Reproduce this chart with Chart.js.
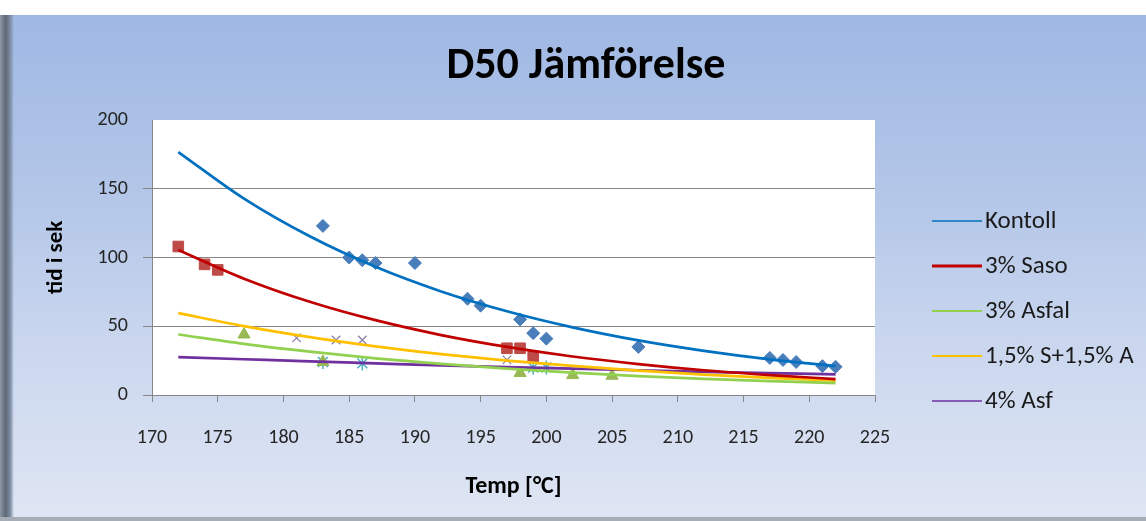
<!DOCTYPE html>
<html>
<head>
<meta charset="utf-8">
<title>D50 Jämförelse</title>
<script src="https://cdn.jsdelivr.net/npm/chart.js@4.4.1/dist/chart.umd.min.js"></script>
<style>
  html, body { margin: 0; padding: 0; background: #ffffff; }
  #wrap { position: relative; width: 1146px; height: 521px; overflow: hidden; }
  #bg { position: absolute; left: 0; top: 15px; width: 1146px; height: 506px;
        background: linear-gradient(to bottom, #9fb8e3 0%, #b3c6e8 35%, #cdd9ef 70%, #dfe6f3 100%); }
  #edge { position: absolute; left: 0; top: 15px; width: 14px; height: 506px;
          background: linear-gradient(to right, #8e97a4 0%, #5d6775 40%, #8090a8 75%, rgba(160,185,228,0) 100%); }
  #foot { position: absolute; left: 0; top: 517px; width: 1146px; height: 4px; background: #a7adb6; }
  canvas { position: absolute; left: 0; top: 0; }
</style>
</head>
<body>
<div id="wrap">
  <div id="bg"></div>
  <div id="edge"></div>
  <div id="foot"></div>
  <canvas id="chart" width="1146" height="521"></canvas>
</div>
<script>
// ---- texts ----
const chartTitle = 'D50 Jämförelse';
const xAxisTitle = 'Temp [°C]';
const yAxisTitle = 'tid i sek';
const seriesNames = ['Kontoll', '3% Saso', '3% Asfal', '1,5% S+1,5% A', '4% Asf'];

// ---- measured points: temperature (°C) and time (s) ----
const kontollTemp = [183, 185, 186, 187, 190, 194, 195, 198, 199, 200, 207, 217, 218, 219, 221, 222];
const kontollTid  = [123, 100, 98, 96, 96, 70, 65, 55, 45, 41, 35, 27, 25.5, 24, 21, 20.5];
const sasoTemp = [172, 174, 175, 197, 198, 199];
const sasoTid  = [108, 95, 91, 34, 34, 28];
const asfalTemp = [177, 183, 198, 202, 205];
const asfalTid  = [44, 24, 16, 14.5, 14];
const blandTemp = [181, 184, 186, 197];
const blandTid  = [41.5, 40, 40, 25.5];
const asf4Temp = [183, 186, 199, 200];
const asf4Tid  = [24, 23, 20, 20];

// ---- exponential trend curves, sampled every 5 °C ----
const trendTemp    = [172, 177, 182, 187, 192, 197, 202, 207, 212, 217, 222];
const kontollTrend = [176.7, 142.8, 115.4, 93.2, 75.3, 60.9, 49.2, 39.7, 32.1, 25.9, 21.0];
const sasoTrend    = [105.5, 84.6, 67.8, 54.4, 43.6, 35.0, 28.0, 22.5, 18.0, 14.5, 11.6];
const asfalTrend   = [44.0, 37.2, 31.5, 26.7, 22.6, 19.2, 16.3, 13.8, 11.8, 10.1, 8.7];
const blandTrend   = [59.6, 50.1, 42.1, 35.4, 29.8, 25.0, 21.1, 17.7, 14.9, 12.5, 10.5];
const asf4Trend    = [27.6, 26.0, 24.4, 23.0, 21.6, 20.3, 19.1, 18.0, 16.9, 15.9, 15.0];

// ---- axis ticks ----
const xTicks = [170, 175, 180, 185, 190, 195, 200, 205, 210, 215, 220, 225];
const yTicks = [0, 50, 100, 150, 200];

const FONT = 'Calibri, Carlito, Lato, "Open Sans", sans-serif';
const lineColors = ['#0070c0', '#c00000', '#92d050', '#ffc000', '#7030a0'];
const legendWidths = [1.5, 3, 2, 2, 1.5];

const toXY = (xs, ys) => xs.map((x, i) => ({ x: x, y: ys[i] }));

function trend(label, ys, color) {
  return {
    type: 'line', label: label, isTrend: true,
    data: toXY(trendTemp, ys),
    borderColor: color, backgroundColor: color, borderWidth: 2.75,
    pointRadius: 0, fill: false, cubicInterpolationMode: 'monotone'
  };
}
function marks(xs, ys, style, fill, stroke, radius, bw) {
  return {
    type: 'scatter', label: '', data: toXY(xs, ys),
    pointStyle: style, pointRadius: radius, pointHoverRadius: radius,
    backgroundColor: fill, borderColor: stroke, pointBorderWidth: bw, showLine: false
  };
}

const datasets = [
  trend(seriesNames[0], kontollTrend, lineColors[0]),
  trend(seriesNames[1], sasoTrend, lineColors[1]),
  trend(seriesNames[2], asfalTrend, lineColors[2]),
  trend(seriesNames[3], blandTrend, lineColors[3]),
  trend(seriesNames[4], asf4Trend, lineColors[4]),
  marks(kontollTemp, kontollTid, 'rectRot', '#4a7ebb', '#4a7ebb', 6.5, 1),
  marks(sasoTemp, sasoTid, 'rect', '#be4b48', '#be4b48', 7.5, 1),
  marks(asfalTemp, asfalTid, 'triangle', '#98b954', '#98b954', 7, 1),
  marks(blandTemp, blandTid, 'crossRot', '#8064a2', '#8a7aa8', 6, 1.2),
  marks(asf4Temp, asf4Tid, 'star', '#4bacc6', '#4bacc6', 7, 1.5)
];

// white plotting area behind the marks
const plotBackground = {
  id: 'plotBackground',
  beforeDraw(chart) {
    const a = chart.chartArea, ctx = chart.ctx;
    ctx.save();
    ctx.fillStyle = '#ffffff';
    ctx.fillRect(a.left, a.top, a.right - a.left, a.bottom - a.top);
    ctx.restore();
  }
};

// title and the legend of trend curves
const decorations = {
  id: 'decorations',
  afterDraw(chart) {
    const ctx = chart.ctx;
    ctx.save();
    ctx.fillStyle = '#000000';
    ctx.font = 'bold 44px ' + FONT;
    ctx.textAlign = 'center';
    ctx.textBaseline = 'middle';
    ctx.fillText(chartTitle, 586, 67);

    ctx.font = '25px ' + FONT;
    ctx.textAlign = 'left';
    let row = 0;
    chart.data.datasets.forEach(ds => {
      if (!ds.isTrend) return;
      const y = 221 + row * 45;
      ctx.strokeStyle = ds.borderColor;
      ctx.lineWidth = legendWidths[row];
      ctx.beginPath();
      ctx.moveTo(932, y);
      ctx.lineTo(982, y);
      ctx.stroke();
      ctx.fillStyle = '#1a1a1a';
      ctx.fillText(ds.label, 985, y + 1);
      row++;
    });
    ctx.restore();
  }
};

new Chart(document.getElementById('chart'), {
  data: { datasets: datasets },
  options: {
    responsive: false,
    animation: false,
    devicePixelRatio: 1,
    layout: { padding: { left: 12, top: 120, right: 271, bottom: 0 } },
    plugins: { legend: { display: false }, tooltip: { enabled: false }, title: { display: false } },
    scales: {
      x: {
        type: 'linear', min: 170, max: 225,
        afterBuildTicks(scale) { scale.ticks = xTicks.map(v => ({ value: v })); },
        afterFit(scale) { scale.height = 126; },
        border: { color: '#868686', width: 1 },
        grid: { drawOnChartArea: false, drawTicks: true, tickLength: 7, color: '#868686' },
        ticks: { color: '#262626', font: { family: FONT, size: 20 }, padding: 24, maxRotation: 0 },
        title: { display: true, text: xAxisTitle, color: '#000000',
                 font: { family: FONT, size: 24, weight: 'bold' }, padding: { top: 0, bottom: 20 } }
      },
      y: {
        type: 'linear', min: 0, max: 200,
        afterBuildTicks(scale) { scale.ticks = yTicks.map(v => ({ value: v })); },
        afterFit(scale) { scale.width = 140; },
        border: { color: '#868686', width: 1 },
        grid: {
          drawTicks: true, tickLength: 9,
          color: c => (c.tick && c.tick.value === 200) ? 'rgba(0,0,0,0)' : '#868686'
        },
        ticks: { color: '#262626', font: { family: FONT, size: 20 }, padding: 15 },
        title: { display: true, text: yAxisTitle, color: '#000000',
                 font: { family: FONT, size: 23, weight: 'bold' }, padding: { top: 30, bottom: 0 } }
      }
    }
  },
  plugins: [plotBackground, decorations]
});
</script>
</body>
</html>
